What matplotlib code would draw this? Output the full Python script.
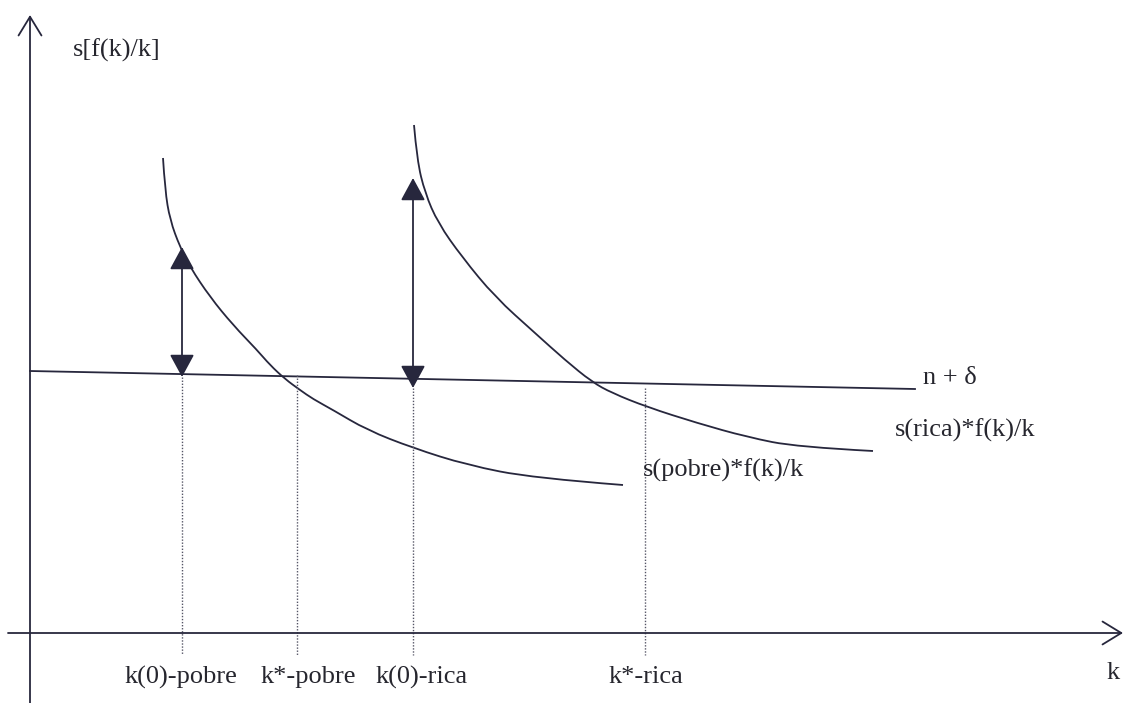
import numpy as np
import matplotlib.pyplot as plt
from matplotlib.path import Path
from matplotlib.patches import PathPatch

# curvas (k, s*f(k)/k)
k_pobre = [133, 135, 140, 150, 160, 180, 203, 227, 240, 255, 270, 283, 303, 337, 383, 437, 503, 593]
y_pobre = [475, 443, 413, 386, 366, 336, 308, 283, 268, 254, 243, 234, 223, 203, 185, 168, 155, 148]
k_rica = [384, 387, 395, 408, 432, 465, 505, 535, 562, 582, 617, 667, 717, 767, 843]
y_rica = [508, 473, 440, 410, 376, 336, 300, 273, 251, 240, 226, 210, 196, 186, 182]
# reta n + delta
k_dep = [0, 885]
y_dep = [262, 244]

# pontos marcados no eixo k
k_marcas = [152, 267, 383, 615]
y_marcas = [256, 258, 245, 245]
rotulos = ['k(0)-pobre', 'k*-pobre', 'k(0)-rica', 'k*-rica']
x_rotulos = [151, 278, 392, 616]

# setas duplas (k, topo, base)
setas = [(152, 386, 256), (383, 455, 245)]

cor = '#27273d'
cor_txt = '#26262e'
plt.rcParams['font.family'] = ['Liberation Serif', 'DejaVu Serif']


def curva_suave(ax, xs, ys):
    # bezier quadratica passando pelos pontos medios
    pts = list(zip(xs, ys))
    verts = [pts[0]]
    codes = [Path.MOVETO]
    for i in range(1, len(pts) - 1):
        if i < len(pts) - 2:
            fim = ((pts[i][0] + pts[i + 1][0]) / 2, (pts[i][1] + pts[i + 1][1]) / 2)
        else:
            fim = pts[-1]
        verts += [pts[i], fim]
        codes += [Path.CURVE3, Path.CURVE3]
    ax.add_patch(PathPatch(Path(verts, codes), fill=False, edgecolor=cor, lw=1.3))


fig = plt.figure(figsize=(11.25, 7.03), dpi=100)
ax = fig.add_axes([0, 0, 1, 1])
ax.set_xlim(-30, 1095)
ax.set_ylim(-70, 633)
ax.axis('off')

# eixos com setas abertas
ax.annotate('', xy=(0, 618), xytext=(0, -70),
            arrowprops=dict(arrowstyle='->,head_length=0.9,head_width=0.55',
                            mutation_scale=15, color=cor, lw=1.3,
                            shrinkA=0, shrinkB=0))
ax.annotate('', xy=(1093, 0), xytext=(-22, 0),
            arrowprops=dict(arrowstyle='->,head_length=0.9,head_width=0.55',
                            mutation_scale=15, color=cor, lw=1.3,
                            shrinkA=0, shrinkB=0))

curva_suave(ax, k_pobre, y_pobre)
curva_suave(ax, k_rica, y_rica)
ax.plot(k_dep, y_dep, color=cor, lw=1.3)

for k, y in zip(k_marcas, y_marcas):
    ax.plot([k, k], [y, -22], color='#555566', lw=1.0, ls=(0, (1, 1.2)))

for k, topo, base in setas:
    ax.annotate('', xy=(k, topo), xytext=(k, base),
                arrowprops=dict(arrowstyle='<|-|>,head_length=0.7,head_width=0.38',
                                mutation_scale=20, color=cor, lw=1.3,
                                shrinkA=0, shrinkB=0))

fs = 19
for x, txt in zip(x_rotulos, rotulos):
    ax.text(x, -44, txt, ha='center', va='center', fontsize=fs, color=cor_txt)

ax.text(43, 583, 's[f(k)/k]', ha='left', va='center', fontsize=fs, color=cor_txt)
ax.text(1083, -40, 'k', ha='center', va='center', fontsize=fs, color=cor_txt)
ax.text(893, 255, 'n + δ', ha='left', va='center', fontsize=fs, color=cor_txt)
ax.text(865, 203, 's(rica)*f(k)/k', ha='left', va='center', fontsize=fs, color=cor_txt)
ax.text(613, 163, 's(pobre)*f(k)/k', ha='left', va='center', fontsize=fs, color=cor_txt)

fig.savefig('out.png', dpi=100)
